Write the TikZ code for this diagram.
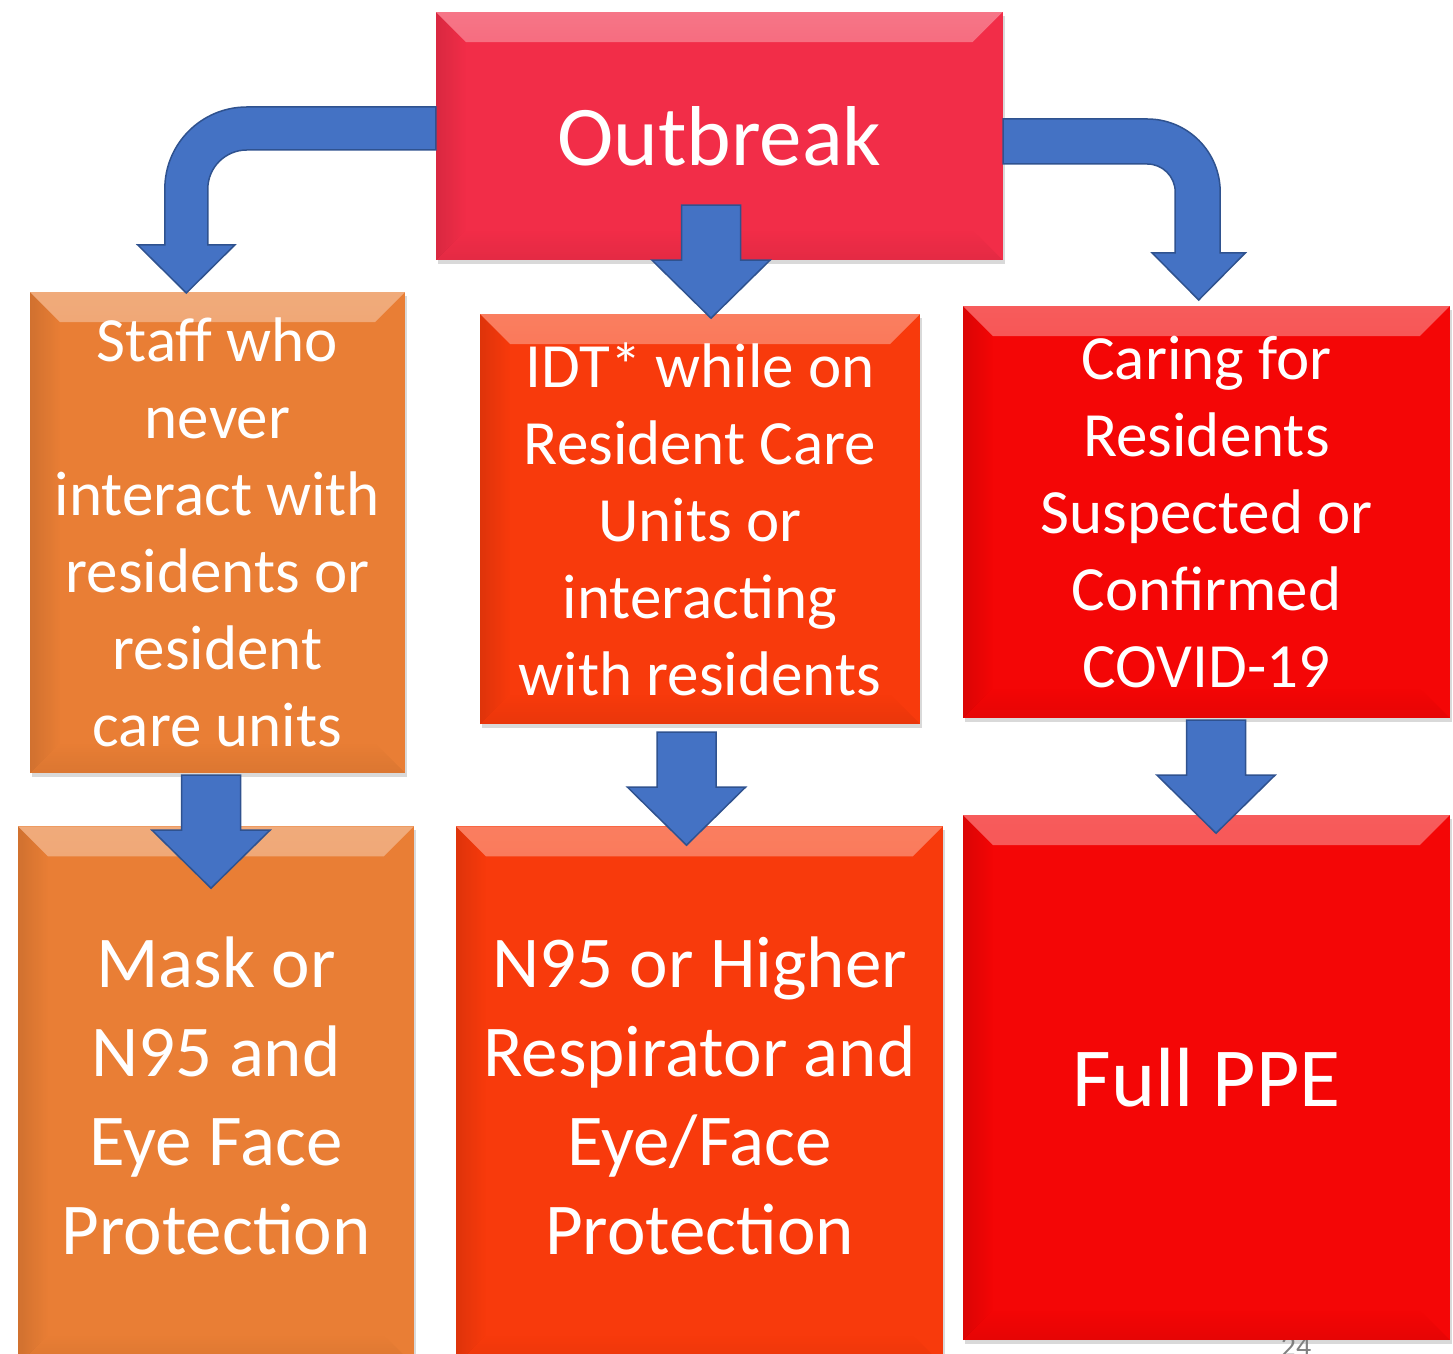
\documentclass[tikz,border=0pt]{standalone}
\usepackage{fontspec}
\setmainfont{Carlito}
\usetikzlibrary{shadows,fadings}

\definecolor{outbreakred}{RGB}{242,45,72}
\definecolor{stafforange}{RGB}{233,126,53}
\definecolor{idtorange}{RGB}{248,58,12}
\definecolor{caringred}{RGB}{244,6,6}
\definecolor{arrowblue}{RGB}{68,114,196}
\definecolor{arrowedge}{RGB}{47,82,143}

\tikzset{
  box/.style={inner sep=0pt, text=white, align=center,
    drop shadow={opacity=.3, shadow xshift=2pt, shadow yshift=-4pt},
    path picture={
      \fill[white,opacity=.35,path fading=south] (path picture bounding box.north west) -- (path picture bounding box.north east)
        -- ([shift={(-30pt,-30pt)}]path picture bounding box.north east) -- ([shift={(30pt,-30pt)}]path picture bounding box.north west) -- cycle;
      \fill[black,opacity=.1,path fading=east] (path picture bounding box.north west) -- ([shift={(30pt,-30pt)}]path picture bounding box.north west)
        -- ([shift={(30pt,30pt)}]path picture bounding box.south west) -- (path picture bounding box.south west) -- cycle;
      \fill[black,opacity=.06,path fading=north] (path picture bounding box.south west) -- ([shift={(30pt,30pt)}]path picture bounding box.south west)
        -- ([shift={(-30pt,30pt)}]path picture bounding box.south east) -- (path picture bounding box.south east) -- cycle;
    }},
  midtext/.style={font=\fontsize{63}{77}\selectfont},
  bigtext/.style={font=\fontsize{73}{89}\selectfont},
  blockarrow/.style={fill=arrowblue, draw=arrowedge, line width=1.5pt, line join=miter},
  downarrow/.pic={\draw[blockarrow] (-29.5,0) -- (29.5,0) -- (29.5,-55) -- (59,-55) -- (0,-113) -- (-59,-55) -- (-29.5,-55) -- cycle;}
}

\begin{document}
\begin{tikzpicture}[x=1pt,y=1pt]
  \useasboundingbox (0,0) rectangle (1453,1353);
  \clip (0,0) rectangle (1453,1353);

  % page number behind the last box
  \node[anchor=base, text=gray, font=\fontsize{30}{36}\selectfont] (pagenum) at (1296,-3) {24};

  % boxes
  \node[box, fill=outbreakred, minimum width=567pt, minimum height=248pt, font=\fontsize{85}{100}\selectfont] (outbreak) at (719.5,1217) {Outbreak};

  \node[box, midtext, fill=stafforange, minimum width=375pt, minimum height=481pt] (staff) at (217.5,820.5)
    {Staff who\\never\\interact with\\residents or\\resident\\care units};
  \node[box, midtext, fill=idtorange, minimum width=440pt, minimum height=410pt] (idt) at (700,834)
    {IDT* while on\\Resident Care\\Units or\\interacting\\with residents};
  \node[box, midtext, fill=caringred, minimum width=487pt, minimum height=412pt] (caring) at (1206.5,841)
    {Caring for\\Residents\\Suspected or\\Confirmed\\COVID-19};

  \node[box, bigtext, fill=stafforange, minimum width=396pt, minimum height=539pt] (mask) at (216,257.5)
    {Mask or\\N95 and\\Eye Face\\Protection};
  \node[box, bigtext, fill=idtorange, minimum width=487pt, minimum height=539pt] (n95) at (699.5,257.5)
    {N95 or Higher\\Respirator and\\Eye/Face\\Protection};
  \node[box, fill=caringred, minimum width=487pt, minimum height=525pt, font=\fontsize{84}{100}\selectfont] (fullppe) at (1206.5,275.5)
    {Full PPE};

  % curved arrows out of the outbreak box
  \draw[blockarrow] ([yshift=29pt]outbreak.west) -- ++(-189,0) arc[start angle=90, end angle=180, radius=82]
    -- ++(0,-56) -- ++(-27,0) -- ++(48.5,-48) -- ++(48.5,48) -- ++(-27,0) -- ++(0,56)
    arc[start angle=180, end angle=90, radius=39] -- ([yshift=-14pt]outbreak.west) -- cycle;
  \draw[blockarrow] ([yshift=17pt]outbreak.east) -- ++(144,0) arc[start angle=90, end angle=0, radius=73]
    -- ++(0,-61) -- ++(25,0) -- ++(-46.5,-47) -- ++(-46.5,47) -- ++(23,0) -- ++(0,61)
    arc[start angle=0, end angle=90, radius=28] -- ([yshift=-28pt]outbreak.east) -- cycle;

  % straight arrows
  \pic at ([xshift=-8.5pt,yshift=55pt]outbreak.south) {downarrow};
  \pic at ([xshift=-6.5pt,yshift=-2pt]staff.south) {downarrow};
  \pic at ([xshift=-13.5pt,yshift=-8pt]idt.south) {downarrow};
  \pic at ([xshift=9.5pt,yshift=-2pt]caring.south) {downarrow};
\end{tikzpicture}
\end{document}
